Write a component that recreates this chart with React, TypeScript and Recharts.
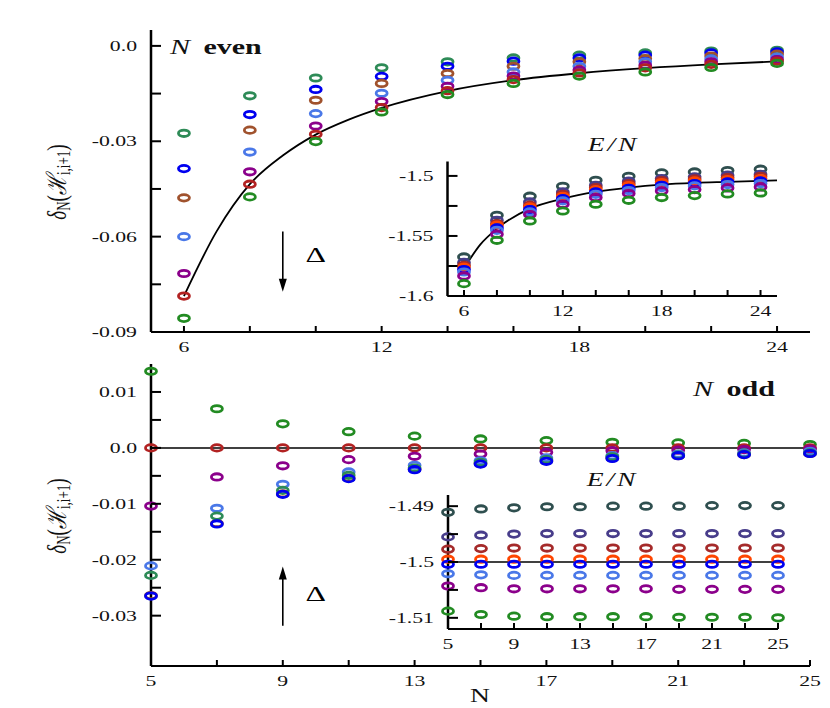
import React from 'react'
import { ComposedChart, Scatter, Line, XAxis, YAxis, ReferenceLine, ReferenceDot } from 'recharts'

const SERIF = '"Liberation Serif", "DejaVu Serif", serif'
// the source figure is stretched horizontally, so text is widened to match
const SX = 1.45
const TICK = '#000'

const SEA = '#2e8b57'
const FOREST = '#228b22'
const BLUE = '#0000f0'
const BROWN = '#a0522d'
const ROYAL = '#4a78e8'
const PURPLE = '#8b008b'
const RED = '#b22222'
const SLATE = '#2f4f4f'
const SLATEBLUE = '#483d8b'
const BRICK = '#a52a2a'
const ORANGE = '#ff4500'

// ---- top panel: N even, delta_N ----
const evenN = [6, 8, 10, 12, 14, 16, 18, 20, 22, 24]
const evSea = [-0.0275, -0.0157, -0.0101, -0.0069, -0.005, -0.0038, -0.0029, -0.0022, -0.0016, -0.0014]
const evBlue = [-0.0386, -0.0216, -0.0137, -0.0096, -0.0064, -0.0048, -0.0038, -0.0029, -0.0022, -0.0019]
const evBrown = [-0.0478, -0.0265, -0.0171, -0.0118, -0.0087, -0.0064, -0.005, -0.004, -0.0032, -0.0026]
const evRoyal = [-0.06, -0.0334, -0.0213, -0.0149, -0.0108, -0.0082, -0.0064, -0.005, -0.0041, -0.0035]
const evPurple = [-0.0716, -0.0396, -0.0252, -0.0175, -0.0127, -0.0095, -0.0076, -0.0061, -0.005, -0.0043]
const evRed = [-0.0787, -0.0435, -0.0278, -0.0194, -0.0141, -0.0106, -0.0085, -0.0069, -0.0058, -0.0048]
const evForest = [-0.0857, -0.0475, -0.0301, -0.0208, -0.0153, -0.0118, -0.0095, -0.0082, -0.0068, -0.0055]
const evCurveN = [6, 7, 8, 9, 10, 11, 12, 14, 16, 18, 20, 22, 24]
const evCurve = [-0.0787, -0.0582, -0.0435, -0.0345, -0.0279, -0.0232, -0.0195, -0.0142, -0.0108, -0.0086, -0.007, -0.0058, -0.0049]

// ---- top inset: E/N, N even ----
const inEvSlate = [-1.5675, -1.5328, -1.5169, -1.5086, -1.5036, -1.5003, -1.4975, -1.4967, -1.4955, -1.4944]
const inEvSlateBlue = [-1.572, -1.537, -1.5217, -1.5133, -1.5078, -1.5044, -1.5022, -1.5008, -1.4994, -1.4986]
const inEvBrick = [-1.5744, -1.5397, -1.5244, -1.5153, -1.5097, -1.5064, -1.5039, -1.5025, -1.5014, -1.5003]
const inEvOrange = [-1.576, -1.541, -1.5258, -1.517, -1.5114, -1.508, -1.5055, -1.5042, -1.503, -1.5022]
const inEvBlue = [-1.578, -1.5433, -1.528, -1.5189, -1.5133, -1.5103, -1.5078, -1.5064, -1.505, -1.5042]
const inEvRoyal = [-1.58, -1.5453, -1.53, -1.5208, -1.5153, -1.5122, -1.5097, -1.5083, -1.5072, -1.5064]
const inEvPurple = [-1.5833, -1.5486, -1.5322, -1.5236, -1.518, -1.5147, -1.5125, -1.5114, -1.51, -1.5092]
const inEvForest = [-1.5897, -1.5536, -1.5375, -1.5292, -1.5236, -1.5203, -1.518, -1.5164, -1.515, -1.5142]
const inEvCurveN = [6, 7, 8, 10, 12, 14, 16, 18, 20, 22, 24, 25]
const inEvCurve = [-1.577, -1.557, -1.5439, -1.5272, -1.5189, -1.5133, -1.5097, -1.5072, -1.5058, -1.505, -1.5042, -1.5038]

// ---- bottom panel: N odd, delta_N ----
const oddN = [5, 7, 9, 11, 13, 15, 17, 19, 21, 23, 25]
const odForest = [0.0137, 0.007, 0.0043, 0.0029, 0.0021, 0.0016, 0.0013, 0.001, 0.0009, 0.0008, 0.0006]
const odRed = [0, 0, 0, 0, 0, 0, 0, 0, 0, 0, 0]
const odPurple = [-0.0104, -0.0052, -0.0032, -0.0021, -0.0015, -0.0011, -0.0008, -0.0005, -0.0004, -0.0003, -0.0002]
const odRoyal = [-0.0211, -0.0108, -0.0065, -0.0043, -0.0031, -0.0023, -0.0018, -0.0014, -0.0011, -0.0009, -0.0006]
const odSea = [-0.0228, -0.0122, -0.0076, -0.0049, -0.0036, -0.0026, -0.0021, -0.0016, -0.0013, -0.0011, -0.0009]
const odBrown = [-0.0264, -0.0135, -0.0082, -0.0054, -0.0038, -0.0028, -0.0023, -0.0018, -0.0014, -0.0012, -0.001]
const odBlue = [-0.0265, -0.0136, -0.0083, -0.0055, -0.0039, -0.0029, -0.0024, -0.0019, -0.0014, -0.0012, -0.001]

// ---- bottom inset: E/N, N odd ----
const inOdSlate = [-1.4911, -1.4905, -1.4903, -1.4901, -1.4901, -1.49, -1.49, -1.49, -1.4899, -1.4899, -1.4899]
const inOdSlateBlue = [-1.4955, -1.4952, -1.495, -1.4949, -1.4949, -1.4949, -1.4949, -1.4949, -1.4949, -1.4949, -1.4949]
const inOdBrick = [-1.4977, -1.4976, -1.4975, -1.4975, -1.4975, -1.4975, -1.4975, -1.4975, -1.4975, -1.4975, -1.4975]
const inOdOrange = [-1.4995, -1.4995, -1.4995, -1.4995, -1.4995, -1.4995, -1.4995, -1.4995, -1.4995, -1.4995, -1.4995]
const inOdBlue = [-1.5004, -1.5004, -1.5004, -1.5004, -1.5004, -1.5004, -1.5004, -1.5004, -1.5004, -1.5004, -1.5004]
const inOdRoyal = [-1.5021, -1.5023, -1.5024, -1.5024, -1.5024, -1.5024, -1.5024, -1.5024, -1.5024, -1.5024, -1.5024]
const inOdPurple = [-1.5043, -1.5046, -1.5048, -1.5048, -1.5048, -1.5048, -1.5048, -1.5049, -1.5049, -1.5049, -1.5049]
const inOdForest = [-1.5088, -1.5094, -1.5097, -1.5098, -1.5098, -1.5098, -1.5098, -1.5099, -1.5099, -1.5099, -1.51]

// ---- ticks ----
const topXTicks = [6, 8, 10, 12, 14, 16, 18, 20, 22, 24]
const topXLabels = [6, 12, 18, 24]
const topYTicks = [0, -0.015, -0.03, -0.045, -0.06, -0.075, -0.09]
const topYLabelVals = [0, -0.03, -0.06, -0.09]
const topYLabelText = ['0.0', '-0.03', '-0.06', '-0.09']

const botXTicks = [5, 7, 9, 11, 13, 15, 17, 19, 21, 23, 25]
const botXLabels = [5, 9, 13, 17, 21, 25]
const botYTicks = [0.01, 0.005, 0, -0.005, -0.01, -0.015, -0.02, -0.025, -0.03]
const botYLabelVals = [0.01, 0, -0.01, -0.02, -0.03]
const botYLabelText = ['0.01', '0.0', '-0.01', '-0.02', '-0.03']

const in1YTicks = [-1.5, -1.525, -1.55, -1.575, -1.6]
const in1YLabelVals = [-1.5, -1.55, -1.6]
const in1YLabelText = ['-1.5', '-1.55', '-1.6']

const in2YTicks = [-1.49, -1.495, -1.5, -1.505, -1.51]
const in2YLabelVals = [-1.49, -1.5, -1.51]
const in2YLabelText = ['-1.49', '-1.5', '-1.51']

type Pt = { N: number; v: number }
type Series = { color: string; values: number[] }

const pts = (xs: number[], ys: number[]): Pt[] => xs.map((N, i) => ({ N, v: ys[i] }))
const near = (a: number, b: number) => Math.abs(a - b) < 1e-9

const ring = (color: string) => (p: any) =>
  <ellipse cx={p.cx} cy={p.cy} rx={5.5} ry={3.2} fill="none" stroke={color} strokeWidth={2.8} />

// ticks point into the plot; label sits 15px below the axis, mark drawn upward
const X_GAP = 15
function xTick(labels: number[]) {
  return (p: any) => {
    const v = p.payload.value
    const s = labels.some((l) => near(l, v)) ? String(v) : ''
    return (
      <g>
        <line x1={p.x} x2={p.x} y1={p.y - X_GAP} y2={p.y - X_GAP - 6} stroke={TICK} strokeWidth={2} />
        <g transform={`translate(${p.x},${p.y}) scale(${SX},1)`}>
          <text textAnchor="middle" dominantBaseline="central" fontFamily={SERIF} fontSize={15} fill="#111">
            {s}
          </text>
        </g>
      </g>
    )
  }
}

const Y_GAP = 14
function yTick(vals: number[], text: string[]) {
  return (p: any) => {
    const i = vals.findIndex((t) => near(t, p.payload.value))
    return (
      <g>
        <line x1={p.x + Y_GAP} x2={p.x + Y_GAP + 10} y1={p.y} y2={p.y} stroke={TICK} strokeWidth={2} />
        <g transform={`translate(${p.x},${p.y}) scale(${SX},1)`}>
          <text textAnchor="end" dominantBaseline="central" fontFamily={SERIF} fontSize={15} fill="#111">
            {i >= 0 ? text[i] : ''}
          </text>
        </g>
      </g>
    )
  }
}

const rightTick = (p: any) => (
  <line x1={p.x} x2={p.x - 10} y1={p.y} y2={p.y} stroke={TICK} strokeWidth={2} />
)

const arrow = (p: any) => {
  const dir = p.y2 > p.y1 ? 1 : -1
  return (
    <g>
      <line x1={p.x1} y1={p.y1} x2={p.x2} y2={p.y2 - dir * 8} stroke="#000" strokeWidth={1.6} />
      <polygon
        points={`${p.x2},${p.y2} ${p.x2 - 4},${p.y2 - dir * 13} ${p.x2 + 4},${p.y2 - dir * 13}`}
        fill="#000"
      />
    </g>
  )
}

const delta = (p: any) => (
  <g transform={`translate(${p.cx},${p.cy}) scale(${SX},1)`}>
    <text textAnchor="middle" dominantBaseline="central" fontFamily={SERIF} fontSize={22} fill="#000">
      Δ
    </text>
  </g>
)

const AX = { stroke: '#000', strokeWidth: 2.5 }
const AXB = { stroke: '#000', strokeWidth: 2 }

interface PanelProps {
  left: number
  top: number
  width: number
  height: number
  marginTop: number
  marginRight: number
  yWidth: number
  xHeight: number
  yDomain: [number, number]
  xTicks: number[]
  xLabels: number[]
  yTicks: number[]
  yLabelVals: number[]
  yLabelText: string[]
  xs: number[]
  series: Series[]
  curve?: Pt[]
  hLine?: number
  rightTicks?: boolean
  children?: React.ReactNode
}

function Panel(props: PanelProps) {
  const { left, top, width, height, yDomain, xs, series } = props
  return (
    <div style={{ position: 'absolute', left, top, width, height }}>
      <ComposedChart
        width={width}
        height={height}
        margin={{ top: props.marginTop, right: props.marginRight, bottom: 0, left: 0 }}
      >
        <XAxis
          dataKey="N"
          type="number"
          domain={[5, 25]}
          ticks={props.xTicks}
          interval={0}
          height={props.xHeight}
          axisLine={AXB}
          tickLine={false}
          tickSize={0}
          tickMargin={X_GAP}
          tick={xTick(props.xLabels)}
        />
        <XAxis xAxisId="t" orientation="top" type="number" domain={[5, 25]} height={0} tick={false} tickLine={false} axisLine={{ stroke: '#000', strokeWidth: 1.8 }} />
        <YAxis
          dataKey="v"
          type="number"
          domain={yDomain}
          ticks={props.yTicks}
          interval={0}
          width={props.yWidth}
          axisLine={AX}
          tickLine={false}
          tickSize={0}
          tickMargin={Y_GAP}
          tick={yTick(props.yLabelVals, props.yLabelText)}
        />
        <YAxis
          yAxisId="r"
          orientation="right"
          type="number"
          domain={yDomain}
          ticks={props.yTicks}
          interval={0}
          width={0}
          tickLine={false}
          tickSize={0}
          tickMargin={0}
          tick={props.rightTicks ? rightTick : false}
          axisLine={AX}
        />
        {props.hLine !== undefined && <ReferenceLine y={props.hLine} stroke="#000" strokeWidth={1.5} />}
        {series.map((s, i) => (
          <Scatter key={i} data={pts(xs, s.values)} shape={ring(s.color)} isAnimationActive={false} />
        ))}
        {props.curve && (
          <Line data={props.curve} dataKey="v" type="monotone" dot={false} stroke="#000" strokeWidth={1.8} isAnimationActive={false} />
        )}
        {props.children}
      </ComposedChart>
    </div>
  )
}

function YLabel({ cx, cy }: { cx: number; cy: number }) {
  return (
    <g transform={`translate(${cx},${cy}) scale(${SX},1) rotate(-90)`}>
      <text textAnchor="middle" dominantBaseline="central" fontFamily={SERIF} fontSize={19} fill="#111">
        <tspan fontStyle="italic">δ</tspan>
        <tspan fontSize={13} dy={5}>N</tspan>
        <tspan dy={-5}>(</tspan>
        <tspan fontStyle="italic">ℋ</tspan>
        <tspan fontSize={13} dy={5}>i,i+1</tspan>
        <tspan dy={-5}>)</tspan>
      </text>
    </g>
  )
}

function Tag({ x, y, italic, bold }: { x: number; y: number; italic: string; bold: string }) {
  return (
    <g transform={`translate(${x},${y}) scale(1.5,1)`}>
      <text dominantBaseline="central" fontFamily={SERIF} fontSize={20} fill="#111">
        <tspan fontStyle="italic">{italic}</tspan>
        <tspan fontWeight="bold" dx={4}> {bold}</tspan>
      </text>
    </g>
  )
}

function EN({ x, y }: { x: number; y: number }) {
  return (
    <g transform={`translate(${x},${y}) scale(${SX},1)`}>
      <text textAnchor="middle" dominantBaseline="central" fontFamily={SERIF} fontSize={19} fontStyle="italic" fill="#111">
        E<tspan dx={2}>/</tspan>
        <tspan dx={2}>N</tspan>
      </text>
    </g>
  )
}

export default function App() {
  const topSeries: Series[] = [
    { color: SEA, values: evSea },
    { color: BLUE, values: evBlue },
    { color: BROWN, values: evBrown },
    { color: ROYAL, values: evRoyal },
    { color: PURPLE, values: evPurple },
    { color: RED, values: evRed },
    { color: FOREST, values: evForest },
  ]
  const in1Series: Series[] = [
    { color: SLATE, values: inEvSlate },
    { color: SLATEBLUE, values: inEvSlateBlue },
    { color: BRICK, values: inEvBrick },
    { color: ORANGE, values: inEvOrange },
    { color: BLUE, values: inEvBlue },
    { color: ROYAL, values: inEvRoyal },
    { color: PURPLE, values: inEvPurple },
    { color: FOREST, values: inEvForest },
  ]
  const botSeries: Series[] = [
    { color: FOREST, values: odForest },
    { color: RED, values: odRed },
    { color: PURPLE, values: odPurple },
    { color: ROYAL, values: odRoyal },
    { color: BROWN, values: odBrown },
    { color: SEA, values: odSea },
    { color: BLUE, values: odBlue },
  ]
  const in2Series: Series[] = [
    { color: SLATE, values: inOdSlate },
    { color: SLATEBLUE, values: inOdSlateBlue },
    { color: BRICK, values: inOdBrick },
    { color: ORANGE, values: inOdOrange },
    { color: BLUE, values: inOdBlue },
    { color: ROYAL, values: inOdRoyal },
    { color: PURPLE, values: inOdPurple },
    { color: FOREST, values: inOdForest },
  ]

  return (
    <div style={{ position: 'absolute', left: 0, top: 0, width: 830, height: 708, background: '#fff', overflow: 'hidden' }}>
      <Panel
        left={0} top={0} width={830} height={360}
        marginTop={30} marginRight={20} yWidth={151} xHeight={28}
        yDomain={[-0.09, 0.005]}
        xTicks={topXTicks} xLabels={topXLabels}
        yTicks={topYTicks} yLabelVals={topYLabelVals} yLabelText={topYLabelText}
        xs={evenN} series={topSeries} curve={pts(evCurveN, evCurve)}
      >
        <ReferenceLine segment={[{ x: 9, y: -0.0584 }, { x: 9, y: -0.0773 }]} shape={arrow} />
        <ReferenceDot x={10} y={-0.0656} r={0} shape={delta} />
      </Panel>
      <Panel
        left={0} top={334} width={830} height={374}
        marginTop={30} marginRight={20} yWidth={151} xHeight={42}
        yDomain={[-0.039, 0.015]}
        xTicks={botXTicks} xLabels={botXLabels}
        yTicks={botYTicks} yLabelVals={botYLabelVals} yLabelText={botYLabelText}
        xs={oddN} series={botSeries} hLine={0}
      >
        <ReferenceLine segment={[{ x: 9, y: -0.0318 }, { x: 9, y: -0.0212 }]} shape={arrow} />
        <ReferenceDot x={10} y={-0.0261} r={0} shape={delta} />
      </Panel>
      <Panel
        left={300} top={130} width={500} height={200}
        marginTop={31.5} marginRight={23} yWidth={147.5} xHeight={34}
        yDomain={[-1.6, -1.488]}
        xTicks={topXTicks} xLabels={topXLabels}
        yTicks={in1YTicks} yLabelVals={in1YLabelVals} yLabelText={in1YLabelText}
        xs={evenN} series={in1Series} curve={pts(inEvCurveN, inEvCurve)} rightTicks
      />
      <Panel
        left={300} top={460} width={500} height={200}
        marginTop={35} marginRight={22} yWidth={148} xHeight={31}
        yDomain={[-1.512, -1.488]}
        xTicks={botXTicks} xLabels={botXLabels}
        yTicks={in2YTicks} yLabelVals={in2YLabelVals} yLabelText={in2YLabelText}
        xs={oddN} series={in2Series} hLine={-1.5} rightTicks
      />
      <svg width={830} height={708} style={{ position: 'absolute', left: 0, top: 0, pointerEvents: 'none' }}>
        <YLabel cx={57} cy={182} />
        <YLabel cx={57} cy={516} />
        <Tag x={170} y={47} italic="N" bold="even" />
        <Tag x={693} y={389} italic="N" bold="odd" />
        <EN x={612} y={145} />
        <EN x={611} y={480} />
        <g transform={`translate(480,696) scale(${SX},1)`}>
          <text textAnchor="middle" dominantBaseline="central" fontFamily={SERIF} fontSize={19} fill="#111">
            N
          </text>
        </g>
      </svg>
    </div>
  )
}
